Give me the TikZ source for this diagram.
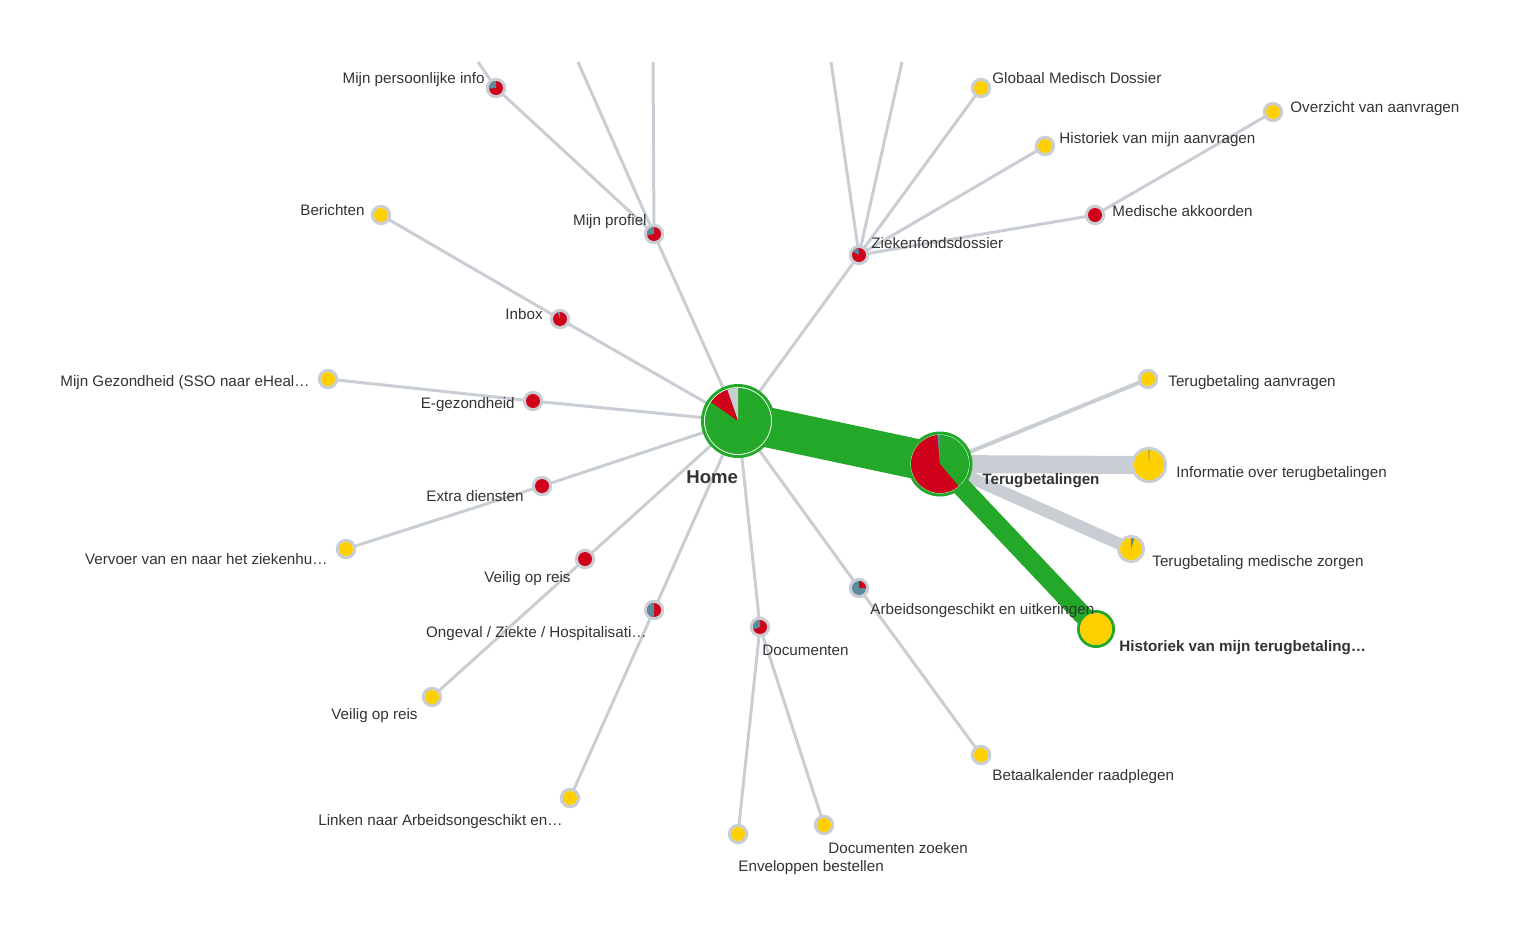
\documentclass[tikz,border=0pt]{standalone}
\usepackage{fontspec}
\setmainfont{Liberation Sans}
\usetikzlibrary{backgrounds}

\definecolor{hitgreen}{RGB}{35,168,42}
\definecolor{dropred}{RGB}{208,2,27}
\definecolor{newyellow}{RGB}{254,208,0}
\definecolor{ringgray}{RGB}{201,206,212}
\definecolor{slate}{RGB}{92,140,155}
\definecolor{labelgray}{RGB}{51,51,51}

% one wedge of a pie: node, radius, from, to, colour
\newcommand{\slice}[5]{\fill[#5] (#1.center) -- ++(#3:#2) arc[start angle=#3, end angle=#4, radius=#2] -- cycle;}
% a full disc: node, radius, colour
\newcommand{\disc}[3]{\fill[#3] (#1.center) circle[radius=#2];}

\tikzset{
  link/.style={draw=ringgray, line width=1.5pt},
  flow/.style={draw=hitgreen},
  leaf/.style={circle, draw=ringgray, line width=1.6pt, fill=white, minimum size=8.6pt, inner sep=0pt},
  lbl/.style={font=\fontsize{7.6}{9}\selectfont, text=labelgray, inner sep=0pt},
  bold lbl/.style={lbl, font=\fontsize{7.6}{9}\selectfont\bfseries},
}

\begin{document}
\begin{tikzpicture}[x=0.5pt, y=-0.5pt]

    \useasboundingbox (0,0) rectangle (1529,934);

    % Main nodes
    \node[circle, draw=hitgreen, line width=1.5pt, fill=white, minimum size=35.5pt, inner sep=0pt] (home) at (738,421) {};
    \node[circle, draw=hitgreen, line width=1.5pt, fill=white, minimum size=31pt, inner sep=0pt] (terug) at (940,464) {};

    % Children of Terugbetalingen
    \node[leaf] (aanvragen) at (1148,379) {};
    \node[leaf, minimum size=16.5pt] (info) at (1149,465) {};
    \node[leaf, minimum size=12.5pt] (zorgen) at (1131,549) {};
    \node[circle, draw=hitgreen, line width=1.5pt, fill=white, minimum size=17.5pt, inner sep=0pt] (histterug) at (1096,629) {};

    % Upper left branch
    \node[leaf] (profiel) at (654,234) {};
    \node[leaf] (persinfo) at (496,88) {};
    \node[leaf] (inbox) at (560,319) {};
    \node[leaf] (berichten) at (381,215) {};
    \node[leaf] (egez) at (533,401) {};
    \node[leaf] (mijngez) at (328,379) {};

    % Lower left branch
    \node[leaf] (extra) at (542,486) {};
    \node[leaf] (vervoer) at (346,549) {};
    \node[leaf] (veilig) at (585,559) {};
    \node[leaf] (veilig2) at (432,697) {};
    \node[leaf] (ongeval) at (654,610) {};
    \node[leaf] (linken) at (570,798) {};
    \node[leaf] (docs) at (760,627) {};
    \node[leaf] (envel) at (738,834) {};
    \node[leaf] (zoeken) at (824,825) {};
    \node[leaf] (arbeid) at (859,588) {};
    \node[leaf] (kalender) at (981,755) {};

    % Upper right branch
    \node[leaf] (zfd) at (859,255) {};
    \node[leaf] (gmd) at (981,88) {};
    \node[leaf] (histaanv) at (1045,146) {};
    \node[leaf] (akkoord) at (1095,215) {};
    \node[leaf] (overzicht) at (1273,112) {};

    % Free ends cut off at the top
    \coordinate (top1) at (478,62);
    \coordinate (top2) at (578,62);
    \coordinate (top3) at (653,62);
    \coordinate (top4) at (831,62);
    \coordinate (top5) at (902,62);

    % Connectors behind the nodes
    \begin{pgfonlayer}{background}
        \draw[link] (home.center) -- (profiel.center);
        \draw[link] (profiel.center) -- (persinfo.center);
        \draw[link] (persinfo.center) -- (top1);
        \draw[link] (profiel.center) -- (top2);
        \draw[link] (profiel.center) -- (top3);
        \draw[link] (home.center) -- (inbox.center) -- (berichten.center);
        \draw[link] (home.center) -- (egez.center) -- (mijngez.center);
        \draw[link] (home.center) -- (extra.center) -- (vervoer.center);
        \draw[link] (home.center) -- (veilig.center) -- (veilig2.center);
        \draw[link] (home.center) -- (ongeval.center) -- (linken.center);
        \draw[link] (home.center) -- (docs.center) -- (envel.center);
        \draw[link] (docs.center) -- (zoeken.center);
        \draw[link] (home.center) -- (arbeid.center) -- (kalender.center);
        \draw[link] (home.center) -- (zfd.center);
        \draw[link] (zfd.center) -- (top4);
        \draw[link] (zfd.center) -- (top5);
        \draw[link] (zfd.center) -- (gmd.center);
        \draw[link] (zfd.center) -- (histaanv.center);
        \draw[link] (zfd.center) -- (akkoord.center) -- (overzicht.center);

        \draw[link, line width=2pt] (terug.center) -- (aanvragen.center);
        \draw[link, line width=9pt] (terug.center) -- (info.center);
        \draw[link, line width=6pt] (terug.center) -- (zorgen.center);
        \draw[flow, line width=9.5pt] (terug.center) -- (histterug.center);
        \draw[flow, line width=20pt] (home.center) -- (terug.center);
    \end{pgfonlayer}

    % Pies
    \disc{home}{16.5pt}{hitgreen}
    \slice{home}{16.5pt}{90}{109}{ringgray}
    \slice{home}{16.5pt}{109}{145}{dropred}
    \disc{terug}{14.5pt}{hitgreen}
    \slice{terug}{14.5pt}{95}{310}{dropred}
    \slice{terug}{14.5pt}{90}{95}{slate}

    \disc{aanvragen}{3.5pt}{newyellow}
    \disc{info}{7.5pt}{newyellow}
    \slice{info}{7.5pt}{88}{92}{slate}
    \disc{zorgen}{5.5pt}{newyellow}
    \slice{zorgen}{5.5pt}{72}{90}{slate}
    \disc{histterug}{8pt}{newyellow}

    \disc{profiel}{3.5pt}{dropred}
    \slice{profiel}{3.5pt}{90}{190}{slate}
    \disc{persinfo}{3.5pt}{dropred}
    \slice{persinfo}{3.5pt}{90}{185}{slate}
    \disc{inbox}{3.5pt}{dropred}
    \slice{inbox}{3.5pt}{90}{110}{slate}
    \disc{berichten}{3.5pt}{newyellow}
    \disc{egez}{3.5pt}{dropred}
    \disc{mijngez}{3.5pt}{newyellow}
    \disc{extra}{3.5pt}{dropred}
    \disc{vervoer}{3.5pt}{newyellow}
    \disc{veilig}{3.5pt}{dropred}
    \disc{veilig2}{3.5pt}{newyellow}
    \disc{ongeval}{3.5pt}{dropred}
    \slice{ongeval}{3.5pt}{90}{270}{slate}
    \disc{linken}{3.5pt}{newyellow}
    \disc{docs}{3.5pt}{dropred}
    \slice{docs}{3.5pt}{90}{200}{slate}
    \disc{envel}{3.5pt}{newyellow}
    \disc{zoeken}{3.5pt}{newyellow}
    \disc{arbeid}{3.5pt}{slate}
    \slice{arbeid}{3.5pt}{0}{90}{dropred}
    \disc{kalender}{3.5pt}{newyellow}
    \disc{zfd}{3.5pt}{dropred}
    \slice{zfd}{3.5pt}{95}{150}{slate}
    \disc{gmd}{3.5pt}{newyellow}
    \disc{histaanv}{3.5pt}{newyellow}
    \disc{akkoord}{3.5pt}{dropred}
    \disc{overzicht}{3.5pt}{newyellow}

    % Labels
    \node[lbl, anchor=base east] (persinfo-lbl) at (485,83) {Mijn persoonlijke info};
    \node[lbl, anchor=base east] (profiel-lbl) at (647,225) {Mijn profiel};
    \node[lbl, anchor=base east] (berichten-lbl) at (365,215) {Berichten};
    \node[lbl, anchor=base east] (inbox-lbl) at (543,319) {Inbox};
    \node[lbl, anchor=base east] (mijngez-lbl) at (310,386) {Mijn Gezondheid (SSO naar eHeal…};
    \node[lbl, anchor=base east] (egez-lbl) at (515,408) {E-gezondheid};
    \node[lbl, anchor=base east] (extra-lbl) at (524,501) {Extra diensten};
    \node[lbl, anchor=base east] (vervoer-lbl) at (328,564) {Vervoer van en naar het ziekenhu…};
    \node[lbl, anchor=base east] (veilig-lbl) at (571,582) {Veilig op reis};
    \node[lbl, anchor=base east] (ongeval-lbl) at (647,637) {Ongeval / Ziekte / Hospitalisati…};
    \node[lbl, anchor=base east] (veilig2-lbl) at (418,719) {Veilig op reis};
    \node[lbl, anchor=base east] (linken-lbl) at (563,825) {Linken naar Arbeidsongeschikt en…};
    \node[lbl, anchor=base west] (docs-lbl) at (762,655) {Documenten};
    \node[lbl, anchor=base west] (envel-lbl) at (738,871) {Enveloppen bestellen};
    \node[lbl, anchor=base west] (zoeken-lbl) at (828,853) {Documenten zoeken};
    \node[lbl, anchor=base west] (arbeid-lbl) at (870,614) {Arbeidsongeschikt en uitkeringen};
    \node[lbl, anchor=base west] (kalender-lbl) at (992,780) {Betaalkalender raadplegen};
    \node[lbl, anchor=base west] (zfd-lbl) at (871,248) {Ziekenfondsdossier};
    \node[lbl, anchor=base west] (gmd-lbl) at (992,83) {Globaal Medisch Dossier};
    \node[lbl, anchor=base west] (histaanv-lbl) at (1059,143) {Historiek van mijn aanvragen};
    \node[lbl, anchor=base west] (akkoord-lbl) at (1112,216) {Medische akkoorden};
    \node[lbl, anchor=base west] (overzicht-lbl) at (1290,112) {Overzicht van aanvragen};
    \node[lbl, anchor=base west] (aanvragen-lbl) at (1168,386) {Terugbetaling aanvragen};
    \node[lbl, anchor=base west] (info-lbl) at (1176,477) {Informatie over terugbetalingen};
    \node[lbl, anchor=base west] (zorgen-lbl) at (1152,566) {Terugbetaling medische zorgen};
    \node[bold lbl, anchor=base west] (histterug-lbl) at (1119,651) {Historiek van mijn terugbetaling…};
    \node[bold lbl, anchor=base west] (terug-lbl) at (982,484) {Terugbetalingen};
    \node[lbl, anchor=base west, font=\fontsize{9.3}{11}\selectfont\bfseries] (home-lbl) at (686,483) {Home};

\end{tikzpicture}
\end{document}
